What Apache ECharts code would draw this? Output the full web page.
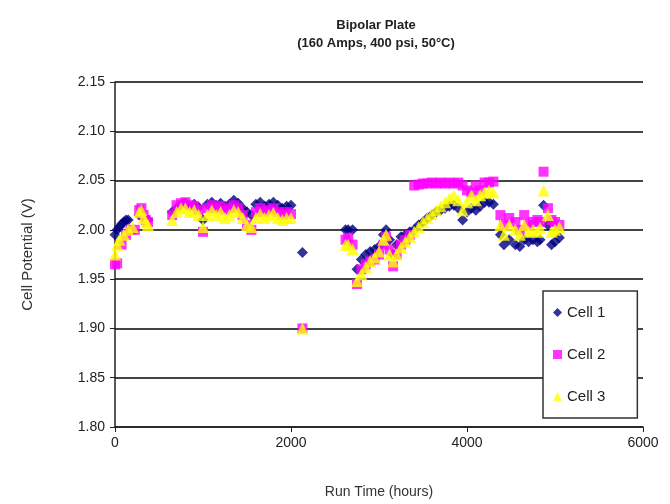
<!DOCTYPE html>
<html>
<head>
<meta charset="utf-8">
<script src="https://cdn.jsdelivr.net/npm/echarts@6/dist/echarts.min.js"></script>
<style>html,body{margin:0;padding:0;background:#fff}#c{width:670px;height:504px}</style>
</head>
<body>
<div id="c"></div>
<script>
// Run time (hours) for each cell
const cell1X = [0,25,50,75,100,125,150,275,325,375,
  650,700,750,800,850,900,950,1000,1050,1100,1150,1200,1250,1300,1350,1400,1450,1500,1550,1600,1650,1700,1750,1800,1850,1900,1950,2000,2130,
  2620,2650,2700,2750,2800,2850,2900,2950,3000,3050,3080,3120,3160,3200,3250,3300,3350,3400,3450,3500,3550,3600,3650,3700,3750,3800,3850,3900,3950,4000,4050,4100,4150,4200,4250,4300,4380,4420,4480,4550,4600,4650,4700,4750,4800,4830,4870,4920,4960,5000,5050];
const cell1Y = [1.995,2.000,2.003,2.006,2.008,2.010,2.010,2.015,2.012,2.010,
  2.018,2.022,2.025,2.027,2.024,2.026,2.023,2.010,2.026,2.028,2.025,2.027,2.024,2.026,2.030,2.027,2.022,2.018,2.015,2.026,2.028,2.024,2.026,2.028,2.025,2.022,2.024,2.025,1.977,
  2.000,2.000,2.000,1.960,1.970,1.975,1.978,1.980,1.983,1.995,2.000,1.990,1.975,1.985,1.993,1.995,1.998,2.000,2.005,2.008,2.012,2.015,2.018,2.020,2.022,2.024,2.025,2.022,2.010,2.018,2.022,2.020,2.024,2.028,2.028,2.026,1.995,1.985,1.990,1.985,1.983,1.990,1.988,1.990,1.988,1.990,2.025,2.005,1.985,1.988,1.992];

const cell2X = [0,25,75,125,175,225,275,300,325,350,375,
  650,700,750,800,850,900,950,1000,1050,1100,1150,1200,1250,1300,1350,1400,1450,1500,1550,1600,1650,1700,1750,1800,1850,1900,1950,2000,2130,
  2620,2650,2700,2750,2800,2850,2900,2950,3000,3050,3080,3120,3160,3200,3250,3300,3350,3400,3450,3500,3550,3600,3650,3700,3750,3800,3850,3900,3950,4000,4050,4100,4150,4200,4250,4300,4380,4420,4480,4550,4600,4650,4700,4750,4800,4830,4870,4920,4960,5000,5050];
const cell2Y = [1.965,1.966,1.985,1.995,2.000,2.000,2.020,2.022,2.015,2.010,2.008,
  2.015,2.025,2.027,2.028,2.025,2.024,2.020,1.998,2.022,2.025,2.022,2.024,2.020,2.022,2.025,2.022,2.015,2.005,2.000,2.018,2.022,2.018,2.020,2.022,2.018,2.015,2.018,2.016,1.900,
  1.990,1.992,1.985,1.945,1.960,1.965,1.968,1.970,1.975,1.985,1.993,1.980,1.963,1.975,1.985,1.990,1.995,2.045,2.046,2.047,2.047,2.048,2.047,2.048,2.047,2.048,2.047,2.048,2.045,2.040,2.038,2.045,2.040,2.048,2.048,2.049,2.015,2.005,2.012,2.008,2.000,2.015,2.005,2.008,2.010,2.008,2.059,2.022,2.010,2.008,2.005];

const cell3X = [0,25,50,100,150,200,275,300,325,350,375,
  650,700,750,800,850,900,950,1000,1050,1100,1150,1200,1250,1300,1350,1400,1450,1500,1550,1600,1650,1700,1750,1800,1850,1900,1950,2000,2130,
  2620,2650,2700,2750,2800,2850,2900,2950,3000,3050,3080,3120,3160,3200,3250,3300,3350,3400,3450,3500,3550,3600,3650,3700,3750,3800,3850,3900,3950,4000,4050,4100,4150,4200,4250,4300,4380,4420,4480,4550,4600,4650,4700,4750,4800,4830,4870,4920,4960,5000,5050];
const cell3Y = [1.975,1.985,1.990,1.995,2.000,2.003,2.018,2.020,2.012,2.008,2.005,
  2.010,2.018,2.022,2.022,2.018,2.020,2.015,2.003,2.015,2.020,2.015,2.018,2.012,2.015,2.020,2.018,2.012,2.005,2.003,2.012,2.016,2.012,2.015,2.017,2.012,2.010,2.012,2.012,1.900,
  1.985,1.985,1.980,1.948,1.955,1.962,1.968,1.972,1.978,1.990,1.995,1.975,1.968,1.975,1.982,1.988,1.993,1.998,2.003,2.008,2.012,2.016,2.020,2.024,2.028,2.032,2.035,2.030,2.020,2.028,2.035,2.030,2.035,2.038,2.040,2.038,2.005,1.995,2.005,2.000,1.995,2.005,1.998,2.000,1.998,2.002,2.040,2.015,1.998,2.000,2.003];

const seriesNames = ['Cell 1','Cell 2','Cell 3'];
const xTicks = [0, 2000, 4000, 6000];
const yTicks = [1.80, 1.85, 1.90, 1.95, 2.00, 2.05, 2.10, 2.15];

const zip = (xs, ys) => xs.map((x, i) => [x, ys[i]]);

const chart = echarts.init(document.getElementById('c'), null, {renderer: 'canvas'});
const font = '"Liberation Sans", Arial, sans-serif';
chart.setOption({
  animation: false,
  backgroundColor: '#fff',
  textStyle: {fontFamily: font},
  title: {
    text: 'Bipolar Plate\n(160 Amps, 400 psi, 50°C)',
    left: 371, top: 11, textAlign: 'center',
    textStyle: {fontSize: 13, fontWeight: 'bold', color: '#222', lineHeight: 18, fontFamily: font}
  },
  grid: {left: 115, right: 27, top: 82, bottom: 71, containLabel: false},
  legend: {
    orient: 'vertical', left: 543, top: 291,
    itemGap: 27, itemWidth: 9, itemHeight: 9,
    padding: [14, 32, 14, 10],
    borderColor: '#333', borderWidth: 1.5, backgroundColor: '#fff',
    textStyle: {fontSize: 15, color: '#222', fontFamily: font},
    data: [
      {name: 'Cell 1', icon: 'diamond'},
      {name: 'Cell 2', icon: 'rect'},
      {name: 'Cell 3', icon: 'triangle'}
    ]
  },
  xAxis: {
    type: 'value', min: xTicks[0], max: xTicks[xTicks.length - 1], interval: 2000,
    name: 'Run Time (hours)', nameLocation: 'middle', nameGap: 58,
    nameTextStyle: {fontSize: 14, color: '#333', fontFamily: font},
    axisLine: {show: true, lineStyle: {color: '#222', width: 1.5}},
    axisTick: {show: true, length: 5, lineStyle: {color: '#222'}},
    axisLabel: {fontSize: 14, color: '#222', margin: 9, fontFamily: font,
      formatter: v => String(v)},
    splitLine: {show: false}
  },
  yAxis: {
    type: 'value', min: yTicks[0], max: yTicks[yTicks.length - 1], interval: 0.05,
    name: 'Cell Potential (V)', nameLocation: 'middle', nameGap: 80,
    nameTextStyle: {fontSize: 15, color: '#333', fontFamily: font},
    axisLine: {show: true, lineStyle: {color: '#222', width: 1.5}},
    axisTick: {show: true, length: 5, lineStyle: {color: '#222'}},
    axisLabel: {fontSize: 14, color: '#222', margin: 10, fontFamily: font,
      formatter: v => v.toFixed(2)},
    splitLine: {show: true, lineStyle: {color: '#444', width: 1.8}}
  },
  series: [
    {name: seriesNames[0], type: 'scatter', symbol: 'diamond', symbolSize: 11,
     itemStyle: {color: '#000080'}, data: zip(cell1X, cell1Y)},
    {name: seriesNames[1], type: 'scatter', symbol: 'rect', symbolSize: 10,
     itemStyle: {color: '#FF00FF'}, data: zip(cell2X, cell2Y)},
    {name: seriesNames[2], type: 'scatter', symbol: 'triangle', symbolSize: 12,
     itemStyle: {color: '#FFFF00'}, data: zip(cell3X, cell3Y)}
  ]
});
</script>
</body>
</html>
